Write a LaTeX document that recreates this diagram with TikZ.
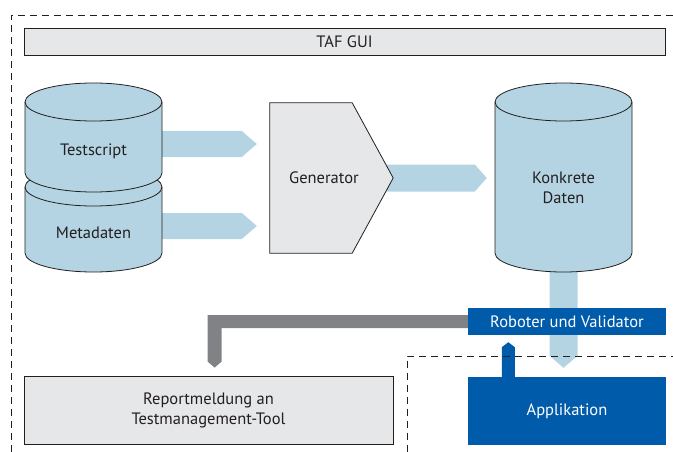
\documentclass[tikz,border=0pt]{standalone}
\usepackage{fontspec}
\setmainfont{PT Sans}
\usetikzlibrary{calc}
\pgfdeclarelayer{bg}
\pgfsetlayers{bg,main}
\definecolor{lblue}{RGB}{180,212,227}
\definecolor{dblue}{RGB}{0,91,170}
\definecolor{bargray}{RGB}{128,130,133}
\definecolor{boxgray}{RGB}{230,231,232}
\definecolor{inkgray}{RGB}{35,31,32}
\newcommand{\mycyl}[5]{%
  \filldraw[cylstyle] ({#1-#4},#2) -- ({#1-#4},#3)
    arc[start angle=180,end angle=360,x radius=#4pt,y radius=#5pt]
    -- ({#1+#4},#2)
    arc[start angle=0,end angle=180,x radius=#4pt,y radius=#5pt] -- cycle;
  \draw[cylstyle,fill=none] ({#1-#4},#2)
    arc[start angle=180,end angle=360,x radius=#4pt,y radius=#5pt];}
\newcommand{\myarrowright}[5]{%
  \fill[#1] let \p1=(#2), \p2=(#3) in
    (\x1,\y1+#4) -- (\x2-#5,\y1+#4) -- (\x2,\y1) -- (\x2-#5,\y1-#4) -- (\x1,\y1-#4) -- cycle;}
\newcommand{\myarrowdown}[5]{%
  \fill[#1] let \p1=(#2), \p2=(#3) in
    (\x1-#4,\y1) -- (\x1-#4,\y2+#5) -- (\x1,\y2) -- (\x1+#4,\y2+#5) -- (\x1+#4,\y1) -- cycle;}
\newcommand{\myarrowup}[5]{%
  \fill[#1] let \p1=(#2), \p2=(#3) in
    (\x1-#4,\y1) -- (\x1-#4,\y2-#5) -- (\x1,\y2) -- (\x1+#4,\y2-#5) -- (\x1+#4,\y1) -- cycle;}
\begin{document}
\begin{tikzpicture}[x=1pt,y=-1pt,
  lbl/.style={font=\fontsize{16.5}{20}\selectfont, text=inkgray, align=center, inner sep=0pt},
  wlbl/.style={font=\fontsize{16.5}{20}\selectfont, text=white, align=center, inner sep=0pt},
  graybox/.style={draw=inkgray, line width=0.8pt, fill=boxgray},
  bluebox/.style={fill=dblue},
  frame/.style={draw=inkgray, dash pattern=on 7pt off 5pt, line width=0.8pt},
  cylstyle/.style={draw=inkgray, line width=0.8pt, fill=lblue},
  flow/.style={fill=lblue},
  reportflow/.style={fill=bargray},
  appflow/.style={fill=dblue}]
\useasboundingbox (0,0) rectangle (673,452);

% frames
\draw[frame] (11,452) -- (11,15) -- (673,15);
\draw[frame] (407,452) -- (407,356) -- (673,356);

% TAF GUI
\node[graybox, lbl, minimum width=641pt, minimum height=27pt] (gui) at (344.5,41.5) {TAF GUI};

% cylinders
\mycyl{93.5}{187}{253}{68.5}{19}
\mycyl{93.5}{102}{173}{68.5}{19}
\mycyl{563.5}{102}{253}{68.5}{19}
\node[lbl, minimum width=137pt] (ts) at (93.5,151) {Testscript};
\node[lbl, minimum width=137pt] (md) at (93.5,233) {Metadaten};
\node[lbl, minimum width=137pt] (kd) at (563.5,188) {Konkrete\\Daten};

% generator
\node[lbl, minimum width=108pt, minimum height=150pt] (gen) at (324,178) {};
\filldraw[graybox] (gen.north west) -- ($(gen.north east)+(-26,0)$) -- ($(gen.east)+(15,0)$)
  -- ($(gen.south east)+(-26,0)$) -- (gen.south west) -- cycle;
\node[lbl] at (gen.center) {Generator};

% bottom boxes
\node[bluebox, wlbl, minimum width=198pt, minimum height=27pt] (rv) at (567,321.5) {Roboter und Validator};
\node[bluebox, wlbl, minimum width=198pt, minimum height=68pt] (app) at (567,411) {Applikation};
\node[graybox, lbl, minimum width=369pt, minimum height=68pt] (rep) at (208.5,410) {Reportmeldung an\\Testmanagement-Tool};

% connector end points
\coordinate (a1s) at ($(ts.east)+(-5,-7)$);
\coordinate (a1t) at ($(gen.west)+(-13,-34)$);
\coordinate (a2s) at ($(md.east)+(-5,-7)$);
\coordinate (a2t) at ($(gen.west)+(-13,48)$);
\coordinate (a3s) at (gen.east);
\coordinate (a3t) at ($(kd.west |- gen.east)+(-8,0)$);
\coordinate (a4s) at ($(kd.center)+(0,60)$);
\coordinate (a4t) at ($(kd.center |- app.north)+(0,-9)$);
\coordinate (a5s) at ($(app.north west)+(40.5,3)$);
\coordinate (a5t) at ($(rv.south west)+(40.5,7)$);
\coordinate (rtip) at ($(rep.north west)+(191,-8)$);

\begin{pgfonlayer}{bg}
  \myarrowright{flow}{a1s}{a1t}{13pt}{15pt}
  \myarrowright{flow}{a2s}{a2t}{13pt}{15pt}
  \myarrowright{flow}{a3s}{a3t}{13.5pt}{12pt}
  \myarrowdown{flow}{a4s}{a4t}{14pt}{12pt}
  \myarrowup{appflow}{a5s}{a5t}{6.5pt}{5pt}
  \fill[reportflow] let \p1=(rv.west), \p3=(rtip) in
    (\x1+10pt,\y1+6.5pt) -- (\x3-7pt,\y1+6.5pt) -- (\x3-7pt,\y3+6pt) -- (\x3,\y3)
    -- (\x3+7pt,\y3+6pt) -- (\x3+7pt,\y1-6.5pt) -- (\x1+10pt,\y1-6.5pt) -- cycle;
\end{pgfonlayer}
\end{tikzpicture}
\end{document}
